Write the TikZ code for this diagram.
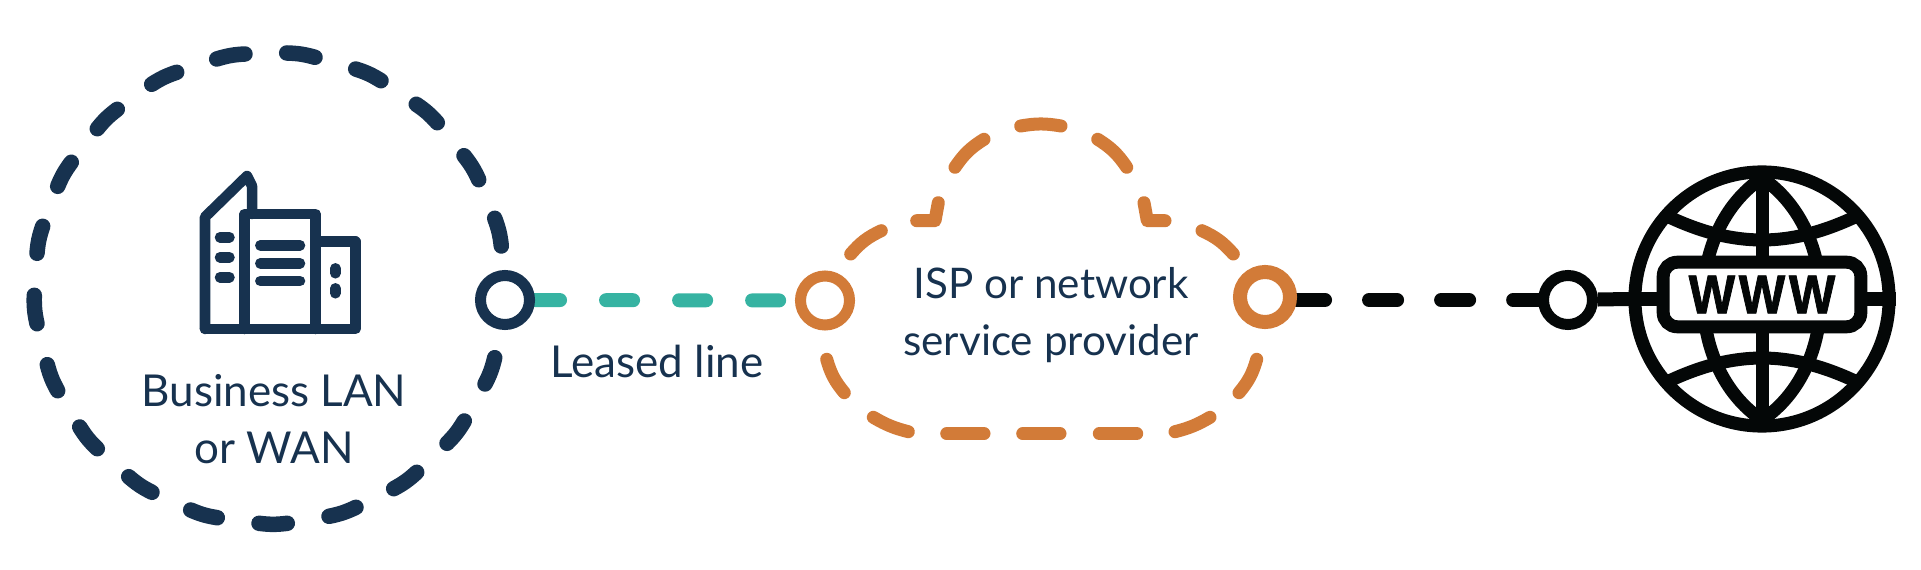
\documentclass[tikz,border=0pt]{standalone}
\usepackage{fontspec}
\setmainfont{Lato}
\newfontfamily\wwwfont[LetterSpace=7,FakeStretch=0.9,FakeBold=1.5]{Liberation Sans}
\usetikzlibrary{backgrounds}
\definecolor{cnavy}{HTML}{17324f}
\definecolor{corange}{HTML}{d27b38}
\definecolor{cteal}{HTML}{36b3a2}
\definecolor{cblack}{HTML}{040707}
\begin{document}
\begin{tikzpicture}[x=0.01cm,y=-0.01cm,
  port/.style={circle,fill=white,inner sep=0pt,minimum size=0.49cm,line width=0.11cm},
  lanarc/.style={cnavy,line width=0.155cm,line cap=round},
  isparc/.style={corange,line width=0.13cm,line cap=round,line join=round},
  leased/.style={cteal,line width=0.14cm,line cap=round,dash pattern=on 0.27cm off 0.46cm,dash phase=0.02cm},
  webline/.style={cblack,line width=0.14cm,line cap=round,dash pattern=on 0.28cm off 0.44cm,dash phase=0.40cm},
  bldg/.style={cnavy,line width=0.105cm,line join=round,line cap=round},
  globe/.style={cblack,line width=0.13cm},
  label/.style={cnavy,font=\fontsize{12.5}{16}\selectfont,align=center,inner sep=0pt}]
  \useasboundingbox (0,0) rectangle (1921,570);
  \foreach \ax/\ay/\bx/\by in {216.7/59/245/54,151.7/84.3/176.7/72.3,97.3/128.7/117.3/109.3,
    57.7/186.3/71.3/162.3,37/253.3/42.7/226.3,286.7/53/315/57.3,355.7/69/381/80.7,
    416.3/104.3/437.3/122.7,464/155.7/478.7/179.7,494.7/218.3/501.3/246,
    494.7/357.7/485/384,464.3/421/447/443.3,416.7/472.3/393.7/488.7,356/507.3/329/516.3,
    287.3/523.3/259/523.3,217.3/517.7/190.7/510,152/492.3/128.7/476.7,97.3/448.7/79.7/427,
    57.7/390.7/47.3/364.7,37/323.7/34.3/295.3}
    \draw[lanarc] (\ax,\ay) to[bend left=7] (\bx,\by);
  \draw[bldg] (205,329) -- (205,217) -- (247,176) -- (252,186) -- (252,214);
  \draw[bldg] (205,329) -- (355.3,329) -- (355.3,241.7) -- (315.7,241.7);
  \draw[bldg] (244.7,329) -- (244.7,214) -- (315.7,214) -- (315.7,329);
  \foreach \y in {237.3,257.3,277.3}
    \draw[bldg] (220,\y) -- (229.5,\y);
  \foreach \y in {245.3,263.3,281}
    \draw[bldg] (260.3,\y) -- (300,\y);
  \draw[bldg] (335.3,268.3) -- (335.3,273.3);
  \draw[bldg] (335.3,288.3) -- (335.3,293.3);
  \node[label] (lanlabel) at (274,419) {Business LAN\\or WAN};
  \node[label] (leasedlabel) at (657,361) {Leased line};
  \node[label,font=\fontsize{12}{16}\selectfont] (isplabel) at (1051,315) {ISP or network\\service provider};
  \foreach \ax/\ay/\bx/\by/\c in {850.7/254/881.3/230.7/12,955/167.3/984/139.3/12,1020.7/126/1061/126/10,
    1097.7/139.3/1126.7/167.3/12,1202/230.7/1233.3/254/12,1256.7/359.3/1239/392.7/12,
    1210/417.3/1175/431.7/8,1136.7/433.7/1099.3/433.7/0,1060/433.7/1022.7/433.7/0,
    984/433.7/946.7/433.7/0,908.3/431.7/873.3/417.3/8,844.3/392.7/826.7/359.3/12}
    \draw[isparc] (\ax,\ay) to[bend left=\c] (\bx,\by);
  \draw[isparc] (916.7,220.7) -- (935,220.7) -- (938.3,202.7);
  \draw[isparc] (1144,202.7) -- (1147.3,220.7) -- (1165,220.7);
  \node[port,draw=cnavy] (lanport) at (505,300) {};
  \node[port,draw=corange] (ispin) at (825,300.5) {};
  \node[port,draw=corange,minimum size=0.5cm,line width=0.14cm] (ispout) at (1265,297) {};
  \node[port,draw=cblack] (webport) at (1568,300) {};
  \node[draw=cblack,circle,inner sep=0pt,minimum size=2.54cm,line width=0.13cm] (webglobe) at (1762,299) {};
  \coordinate (webtop) at (1762,178);
  \coordinate (websouth) at (1762,420);
  \draw[globe] (webtop) -- (websouth);
  \draw[globe] (webtop) to[bend right=56] (websouth);
  \draw[globe] (webtop) to[bend left=56] (websouth);
  \draw[globe] (1669,217) to[bend right=25] (1855,217);
  \draw[globe] (1669,381) to[bend left=25] (1855,381);
  \node[draw,globe,fill=white,text=cblack,rounded corners=0.14cm,minimum width=1.975cm,minimum height=0.645cm,inner sep=0pt,
    font=\wwwfont\bfseries\fontsize{15.5}{15.5}\selectfont] (webbox) at (1762,294.5) {WWW};
  \draw[globe,line width=0.14cm] (webport) -- (webglobe.west);
  \draw[globe] (webglobe.west) -- (webglobe.west -| webbox.west);
  \draw[globe] (webglobe.east) -- (webglobe.east -| webbox.east);
  \begin{scope}[on background layer]
    \draw[leased] (lanport) -- (ispin);
    \draw[webline] (ispout |- webport) -- (webport);
  \end{scope}
\end{tikzpicture}
\end{document}
